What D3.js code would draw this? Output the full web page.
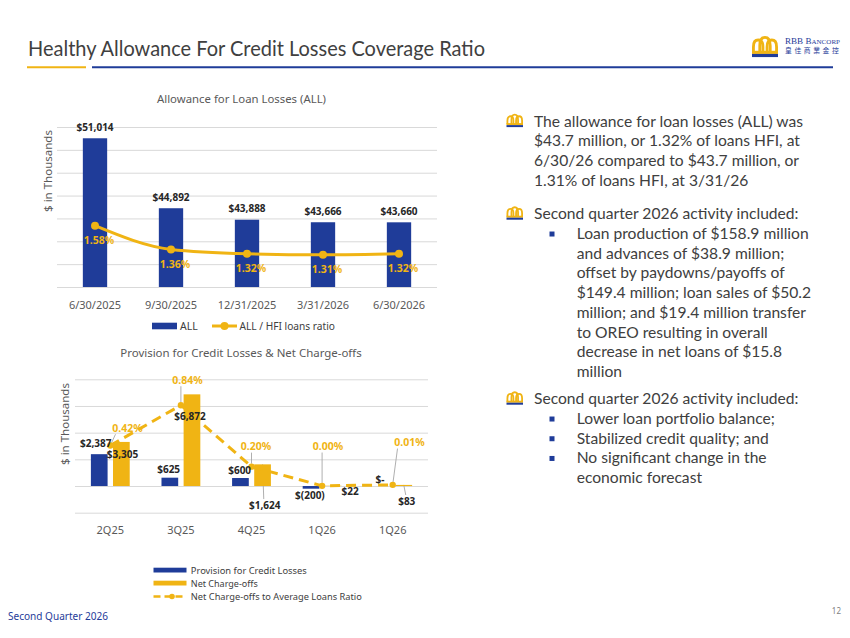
<!DOCTYPE html>
<html><head><meta charset="utf-8">
<script src="https://cdn.jsdelivr.net/npm/d3@7"></script>
<style>body{margin:0;background:#fff;} svg{display:block;}</style>
</head><body><svg id="c" width="850" height="638"></svg>
<script>
// ---------- DATA ----------
const allDates = ["6/30/2025","9/30/2025","12/31/2025","3/31/2026","6/30/2026"];
const allValues = [51014,44892,43888,43666,43660];
const allRatio = [1.58,1.36,1.32,1.31,1.32];
const allTicks = [38000,40000,42000,44000,46000,48000,50000,52000];

const pcQuarters = ["2Q25","3Q25","4Q25","1Q26","1Q26"];
const provision = [2387,625,600,-200,0];
const netChargeOffs = [3305,6872,1624,22,83];
const ncoRatio = [0.42,0.84,0.20,0.00,0.01];
const pcTicks = [-2000,0,2000,4000,6000,8000];

// ---------- STYLE / LAYOUT ----------
const BLUE="#1F3C99", GOLD="#F0B414", GRID="#D9D9D9", TXT="#404040", LEAD="#A6A6A6";
const CF="'Noto Sans', sans-serif", BF="Lato, 'Noto Sans', sans-serif";
const provLabelOffset=[[-3.5,-10.9],[-1.2,-8.4],[-0.8,-8],[-1.1,6.3],[-1.7,-6.7]];
const ncoLabelOffset=[[1.2,12.1],[-1.9,21.7],[2.2,40.7],[16.9,6],[3,16.1]];
const ncoLeader=[false,false,true,false,true];
const ratioLabelOffset=[[17.2,-17.3],[6.6,-25],[4.5,-20],[5.9,-39.3],[16.8,-42.3]];

const svg=d3.select("#c");
svg.append("rect").attr("width",850).attr("height",638).attr("fill","#fff");

function fit(sel,w){const n=sel.node().getComputedTextLength(); if(Math.abs(n-w)/w>0.01) sel.attr("textLength",w).attr("lengthAdjust","spacingAndGlyphs"); return sel;}
const fmtMoney=v=> v<0?"$("+d3.format(",")(-v)+")": v===0?"$-":"$"+d3.format(",")(v);
const fmtPct=v=>d3.format(".2f")(v)+"%";

function crown(g,x0,yb,w){
  const s=w*0.11;
  const arch=(a,b,top)=>`M${a},${yb} L${a},${yb-(yb-top)*0.45} Q${a},${top} ${(a+b)/2},${top} Q${b},${top} ${b},${yb-(yb-top)*0.45} L${b},${yb}`;
  const gg=g.append("g").attr("fill","none").attr("stroke",GOLD).attr("stroke-width",s);
  gg.append("path").attr("d",arch(x0+s/2,x0+0.42*w,yb-0.48*w));
  gg.append("path").attr("d",arch(x0+0.58*w,x0+w-s/2,yb-0.48*w));
  gg.append("path").attr("d",arch(x0+0.3*w,x0+0.7*w,yb-0.58*w));
  g.append("rect").attr("x",x0).attr("y",yb-s*0.6).attr("width",w).attr("height",s*1.1).attr("fill",GOLD);
  g.append("rect").attr("x",x0).attr("y",yb+s*0.5).attr("width",w).attr("height",s*1.1).attr("fill",BLUE);
}

// ---------- HEADER ----------
fit(svg.append("text").attr("x",28).attr("y",55.7).attr("font-family",BF).attr("font-size",21).attr("fill",TXT)
  .text("Healthy Allowance For Credit Losses Coverage Ratio"),457);
svg.append("line").attr("x1",27).attr("x2",86).attr("y1",67.3).attr("y2",67.3).attr("stroke",GOLD).attr("stroke-width",2);
svg.append("line").attr("x1",92).attr("x2",833).attr("y1",67.3).attr("y2",67.3).attr("stroke",BLUE).attr("stroke-width",2);
crown(svg.append("g"),752,52.5,26);
const lt=svg.append("text").attr("x",785).attr("y",43.5).attr("font-family","'Liberation Serif', serif").attr("fill",BLUE);
lt.append("tspan").attr("font-size",8.5).text("RBB B");
lt.append("tspan").attr("font-size",6.6).text("ANCORP");
fit(lt,55);
svg.append("text").attr("x",785).attr("y",52.5).attr("font-family","'Noto Sans CJK TC', sans-serif").attr("font-size",6.8)
  .attr("letter-spacing",2.6).attr("fill",BLUE).text("皇佳商業金控");

// ---------- TOP CHART ----------
const gt=svg.append("g");
const x1=d3.scaleBand().domain(allDates).range([57,437]).paddingInner(0.68).paddingOuter(0.34);
const y1=d3.scaleLinear().domain([38000,52000]).range([287,127]);
const y1r=d3.scaleLinear().domain([1.0124,2.494]).range([287,127]);

const grid1=gt.append("g").attr("transform","translate(57,0)")
  .call(d3.axisLeft(y1).tickValues(allTicks).tickSize(-380).tickFormat(""));
grid1.select(".domain").remove();
grid1.selectAll(".tick line").attr("stroke",GRID).attr("stroke-width",1);

const xa1=gt.append("g").attr("transform","translate(0,287)").call(d3.axisBottom(x1).tickSize(0).tickPadding(14));
xa1.select(".domain").remove();
xa1.selectAll("text").attr("font-family",CF).attr("font-size",11).attr("fill","#595959");

gt.selectAll("rect.bar").data(allValues).join("rect").attr("class","bar")
  .attr("x",(d,i)=>x1(allDates[i])).attr("width",x1.bandwidth())
  .attr("y",d=>y1(d)).attr("height",d=>y1(38000)-y1(d)).attr("fill",BLUE);

const line1=d3.line().x((d,i)=>x1(allDates[i])+x1.bandwidth()/2).y(d=>y1r(d)).curve(d3.curveMonotoneX);
gt.append("path").datum(allRatio).attr("d",line1).attr("fill","none").attr("stroke",GOLD).attr("stroke-width",3);
gt.selectAll("circle.pt").data(allRatio).join("circle").attr("class","pt")
  .attr("cx",(d,i)=>x1(allDates[i])+x1.bandwidth()/2).attr("cy",d=>y1r(d)).attr("r",4).attr("fill",GOLD);

gt.selectAll("text.vl").data(allValues).join("text").attr("class","vl")
  .attr("x",(d,i)=>x1(allDates[i])+x1.bandwidth()/2).attr("y",d=>y1(d)-7.5)
  .attr("text-anchor","middle").attr("font-family",CF).attr("font-size",10).attr("font-weight","bold").attr("fill","#262626")
  .text(fmtMoney);
gt.selectAll("text.rl").data(allRatio).join("text").attr("class","rl")
  .attr("x",(d,i)=>x1(allDates[i])+x1.bandwidth()/2+4).attr("y",d=>y1r(d)+18.5)
  .attr("text-anchor","middle").attr("font-family",CF).attr("font-size",10.5).attr("font-weight","bold").attr("fill",GOLD)
  .text(fmtPct);

fit(gt.append("text").attr("x",241.5).attr("y",103).attr("text-anchor","middle").attr("font-family",CF).attr("font-size",10.5)
  .attr("fill","#595959").text("Allowance for Loan Losses (ALL)"),169);
fit(gt.append("text").attr("transform","translate(52,171) rotate(-90)").attr("text-anchor","middle").attr("font-family",CF)
  .attr("font-size",11.5).attr("fill","#595959").text("$ in Thousands"),82);

// legend top
gt.append("rect").attr("x",152).attr("y",322.7).attr("width",25).attr("height",6.6).attr("fill",BLUE);
gt.append("text").attr("x",180).attr("y",329.8).attr("font-family",CF).attr("font-size",10.5).attr("fill",TXT).text("ALL");
gt.append("line").attr("x1",212).attr("x2",237).attr("y1",326).attr("y2",326).attr("stroke",GOLD).attr("stroke-width",3);
gt.append("circle").attr("cx",224.5).attr("cy",326).attr("r",4).attr("fill",GOLD);
fit(gt.append("text").attr("x",239.5).attr("y",329.8).attr("font-family",CF).attr("font-size",10.5).attr("fill",TXT).text("ALL / HFI loans ratio"),95.5);

// ---------- BOTTOM CHART ----------
const gb=svg.append("g");
const idx=d3.range(pcQuarters.length);
const x2=d3.scaleBand().domain(idx).range([75,428]).paddingInner(0.45).paddingOuter(0.225);
const sub=d3.scaleBand().domain(["prov","nco"]).range([0,x2.bandwidth()]).paddingInner(0.245);
const y2=d3.scaleLinear().domain([-2000,8000]).range([512.7,379.3]);
const y2r=d3.scaleLinear().domain([-0.28,1.11]).range([512.7,379.3]);
const cx=i=>x2(i)+x2.bandwidth()/2;
const bx=(i,k)=>x2(i)+sub(k)+sub.bandwidth()/2;

const grid2=gb.append("g").attr("transform","translate(75,0)")
  .call(d3.axisLeft(y2).tickValues(pcTicks).tickSize(-353).tickFormat(""));
grid2.select(".domain").remove();
grid2.selectAll(".tick line").attr("stroke",GRID).attr("stroke-width",1);

const xa2=gb.append("g").attr("transform","translate(0,512.7)")
  .call(d3.axisBottom(x2).tickSize(0).tickPadding(14).tickFormat(i=>pcQuarters[i]));
xa2.select(".domain").remove();
xa2.selectAll("text").attr("font-family",CF).attr("font-size",11).attr("fill","#595959");

// leaders (beneath bars)
const lg=gb.append("g").attr("stroke",LEAD).attr("stroke-width",0.9);
netChargeOffs.forEach((v,i)=>{ if(!ncoLeader[i]) return;
  const px=bx(i,"nco"), py=y2(v), lx=px+ncoLabelOffset[i][0], ly=py+ncoLabelOffset[i][1];
  lg.append("line").attr("x1",lx-1).attr("y1",ly-6).attr("x2",px).attr("y2",py);
});
ncoRatio.forEach((v,i)=>{
  const px=cx(i), py=y2r(v), lx=px+ratioLabelOffset[i][0], ly=py+ratioLabelOffset[i][1];
  const sx=lx+Math.max(-12,Math.min(12,px-lx)), sy=ly+6;
  const dx=px-sx, dy=py-sy, L=Math.hypot(dx,dy);
  lg.append("line").attr("x1",sx).attr("y1",sy).attr("x2",px-dx/L*3).attr("y2",py-dy/L*3);
});

gb.selectAll("rect.pb").data(provision).join("rect").attr("class","pb")
  .attr("x",(d,i)=>x2(i)+sub("prov")).attr("width",sub.bandwidth())
  .attr("y",d=>Math.min(y2(d),y2(0))).attr("height",d=>Math.abs(y2(d)-y2(0))).attr("fill",BLUE);
gb.selectAll("rect.nb").data(netChargeOffs).join("rect").attr("class","nb")
  .attr("x",(d,i)=>x2(i)+sub("nco")).attr("width",sub.bandwidth())
  .attr("y",d=>Math.min(y2(d),y2(0))).attr("height",d=>Math.abs(y2(d)-y2(0))).attr("fill",GOLD);

const line2=d3.line().x((d,i)=>cx(i)).y(d=>y2r(d));
gb.append("path").datum(ncoRatio).attr("d",line2).attr("fill","none").attr("stroke",GOLD).attr("stroke-width",3)
  .attr("stroke-dasharray","10,6");
gb.selectAll("circle.rp").data(ncoRatio).join("circle").attr("class","rp")
  .attr("cx",(d,i)=>cx(i)).attr("cy",d=>y2r(d)).attr("r",3.2).attr("fill",GOLD);

const lab=(sel)=>sel.attr("text-anchor","middle").attr("font-family",CF).attr("font-size",10).attr("font-weight","bold").attr("dy","0.36em");
lab(gb.selectAll("text.pl").data(provision).join("text").attr("class","pl")
  .attr("x",(d,i)=>bx(i,"prov")+provLabelOffset[i][0]).attr("y",(d,i)=>y2(d)+provLabelOffset[i][1]))
  .attr("fill","#262626").text(fmtMoney);
lab(gb.selectAll("text.nl").data(netChargeOffs).join("text").attr("class","nl")
  .attr("x",(d,i)=>bx(i,"nco")+ncoLabelOffset[i][0]).attr("y",(d,i)=>y2(d)+ncoLabelOffset[i][1]))
  .attr("fill","#262626").text(fmtMoney);
lab(gb.selectAll("text.ql").data(ncoRatio).join("text").attr("class","ql")
  .attr("x",(d,i)=>cx(i)+ratioLabelOffset[i][0]).attr("y",(d,i)=>y2r(d)+ratioLabelOffset[i][1]))
  .attr("font-size",10.5).attr("fill",GOLD).text(fmtPct);

fit(gb.append("text").attr("x",241).attr("y",357).attr("text-anchor","middle").attr("font-family",CF).attr("font-size",10.5)
  .attr("fill","#595959").text("Provision for Credit Losses & Net Charge-offs"),241.5);
fit(gb.append("text").attr("transform","translate(69,424) rotate(-90)").attr("text-anchor","middle").attr("font-family",CF)
  .attr("font-size",11.5).attr("fill","#595959").text("$ in Thousands"),82);

// legend bottom
gb.append("rect").attr("x",153.5).attr("y",567.7).attr("width",33).attr("height",4.8).attr("fill",BLUE);
fit(gb.append("text").attr("x",190.8).attr("y",573.5).attr("font-family",CF).attr("font-size",9.5).attr("fill",TXT).text("Provision for Credit Losses"),116);
gb.append("rect").attr("x",153.5).attr("y",580.7).attr("width",33).attr("height",4.8).attr("fill",GOLD);
fit(gb.append("text").attr("x",190.8).attr("y",586.5).attr("font-family",CF).attr("font-size",9.5).attr("fill",TXT).text("Net Charge-offs"),67);
gb.append("line").attr("x1",153.5).attr("x2",186.5).attr("y1",596.5).attr("y2",596.5).attr("stroke",GOLD).attr("stroke-width",2.5).attr("stroke-dasharray","7,4");
gb.append("circle").attr("cx",172).attr("cy",596.5).attr("r",2.8).attr("fill",GOLD);
fit(gb.append("text").attr("x",190.8).attr("y",600).attr("font-family",CF).attr("font-size",9.5).attr("fill",TXT).text("Net Charge-offs to Average Loans Ratio"),171);

// ---------- RIGHT TEXT ----------
const paras=[
  {y:121.7, lines:[{t:"The allowance for loan losses (ALL) was",l:0,b:1},{t:"$43.7 million, or 1.32% of loans HFI, at",l:0},
    {t:"6/30/26 compared to $43.7 million, or",l:0},{t:"1.31% of loans HFI, at 3/31/26",l:0}]},
  {y:214.3, lines:[{t:"Second quarter 2026 activity included:",l:0,b:1},{t:"Loan production of $158.9 million",l:1,b:1},
    {t:"and advances of $38.9 million;",l:1},{t:"offset by paydowns/payoffs of",l:1},{t:"$149.4 million; loan sales of $50.2",l:1},
    {t:"million; and $19.4 million transfer",l:1},{t:"to OREO resulting in overall",l:1},{t:"decrease in net loans of $15.8",l:1},{t:"million",l:1}]},
  {y:399.3, lines:[{t:"Second quarter 2026 activity included:",l:0,b:1},{t:"Lower loan portfolio balance;",l:1,b:1},
    {t:"Stabilized credit quality; and",l:1,b:1},{t:"No significant change in the",l:1,b:1},{t:"economic forecast",l:1}]}
];
const gr=svg.append("g");
const texts=[];
paras.forEach(p=>{
  p.lines.forEach((ln,j)=>{
    const yc=p.y+j*19.72;
    const x=ln.l===0?534:576.7;
    const t=gr.append("text").attr("x",x).attr("y",yc+5).attr("font-family",BF).attr("font-size",15).attr("fill",TXT).text(ln.t);
    texts.push(t);
    if(ln.b){
      if(ln.l===0) crown(gr.append("g"),506.5,yc+2.5,16.5);
      else gr.append("rect").attr("x",549.5).attr("y",yc-2.5).attr("width",5).attr("height",5).attr("fill",BLUE);
    }
  });
});
const f=269/texts[0].node().getComputedTextLength();
texts.forEach(t=>{const n=t.node().getComputedTextLength(); t.attr("textLength",n*f).attr("lengthAdjust","spacingAndGlyphs");});

// ---------- FOOTER ----------
fit(svg.append("text").attr("x",8).attr("y",620).attr("font-family",CF).attr("font-size",11).attr("fill",BLUE).text("Second Quarter 2026"),100);
svg.append("text").attr("x",841).attr("y",614).attr("text-anchor","end").attr("font-family",CF).attr("font-size",8).attr("fill","#7F7F7F").text("12");
</script></body></html>
